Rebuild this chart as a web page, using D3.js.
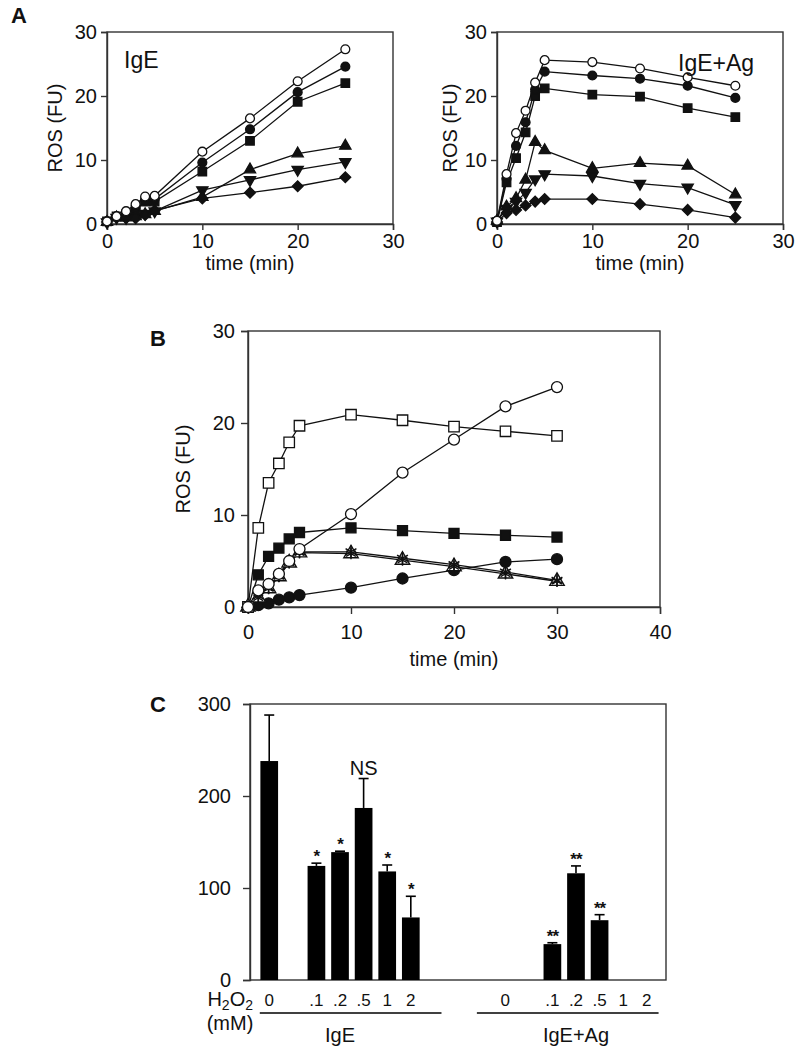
<!DOCTYPE html>
<html><head><meta charset="utf-8">
<script src="https://cdn.jsdelivr.net/npm/d3@7"></script>
<style>
body{margin:0;background:#fff}
svg{display:block}
text{font-family:"Liberation Sans",Arial,Helvetica,sans-serif;fill:#111}
</style>
</head><body>
<svg id="c" width="800" height="1055"></svg>
<script>
// ---------------- DATA ----------------
// Panel A (time in min, ROS in FU)
const timesA = [0, 1, 2, 3, 4, 5, 10, 15, 20, 25];
const xTicksA = [0, 10, 20, 30];
const yTicksA = [0, 10, 20, 30];
// IgE
const igeOpenCircle   = [0.4, 1.2, 2.0, 3.1, 4.3, 4.4, 11.3, 16.5, 22.3, 27.3];
const igeFilledCircle = [0.4, 1.2, 1.8, 2.5, 3.6, 3.9, 9.6, 14.8, 20.6, 24.6];
const igeFilledSquare = [0.4, 1.2, 1.5, 2.2, 3.5, 3.5, 8.2, 13.0, 19.1, 22.0];
const igeTriUp        = [0.3, 1.0, 1.0, 1.2, 1.5, 2.0, 4.2, 8.5, 11.0, 12.2];
const igeTriDown      = [0.3, 1.0, 1.0, 1.2, 1.6, 2.0, 5.3, 6.9, 8.5, 9.7];
const igeDiamond      = [0.3, 1.1, 0.9, 0.9, 1.4, 2.1, 4.0, 4.9, 5.9, 7.3];
// IgE+Ag
const agOpenCircle    = [0.5, 7.8, 14.2, 17.7, 22.1, 25.6, 25.3, 24.3, 22.9, 21.6];
const agFilledCircle  = [0.5, 7.1, 12.2, 15.9, 21.0, 23.8, 23.2, 22.7, 21.6, 19.7];
const agFilledSquare  = [0.3, 6.5, 10.3, 14.3, 20.0, 21.2, 20.2, 19.9, 18.1, 16.7];
const agTriUp         = [0.5, 2.7, 4.0, 6.9, 12.8, 11.5, 8.7, 9.5, 9.1, 4.6];
const agTriDown       = [0.4, 2.4, 3.5, 4.9, 7.0, 7.8, 7.5, 6.3, 5.7, 3.0];
const agDiamond       = [0.3, 1.7, 2.2, 2.9, 3.5, 3.9, 3.9, 3.1, 2.2, 1.0];

// Panel B
const timesB = [0, 1, 2, 3, 4, 5, 10, 15, 20, 25, 30];
const xTicksB = [0, 10, 20, 30, 40];
const yTicksB = [0, 10, 20, 30];
const bOpenSquare   = [0, 8.6, 13.5, 15.6, 17.9, 19.7, 20.9, 20.3, 19.6, 19.1, 18.6];
const bOpenCircle   = [0, 1.8, 2.5, 3.6, 5.0, 6.3, 10.1, 14.6, 18.2, 21.8, 23.9];
const bFilledSquare = [0, 3.5, 5.5, 6.4, 7.4, 8.1, 8.6, 8.3, 8.0, 7.8, 7.6];
const bFilledCircle = [0, 0.2, 0.4, 0.8, 1.05, 1.3, 2.1, 3.1, 4.0, 4.9, 5.2];
const bAsterisk     = [0, 1.2, 2.1, 3.4, 4.9, 6.0, 6.0, 5.3, 4.6, 3.8, 2.9];
const bOpenTriangle = [0, 1.0, 2.0, 3.3, 4.8, 5.9, 5.8, 5.1, 4.4, 3.6, 2.8];

// Panel C (IL-3 pg/ml)
const doseLabels = ["0", ".1", ".2", ".5", "1", "2"];
const groupLabels = ["IgE", "IgE+Ag"];
const il3IgE     = [238, 124, 139, 187, 118, 68];
const il3IgEErr  = [50, 3, 1, 32, 7, 23];
const il3IgESig  = ["", "*", "*", "NS", "*", "*"];
const il3Ag      = [0, 39, 116, 65, 0, 0];
const il3AgErr   = [0, 1.5, 8, 6, 0, 0];
const il3AgSig   = ["", "**", "**", "**", "", ""];
const yTicksC = [0, 100, 200, 300];

// ---------------- DRAWING ----------------
const svg = d3.select("#c");
const AX = "#333";

function shapePath(shape, size) {
  if (shape === "circle") return d3.symbol(d3.symbolCircle, size)();
  if (shape === "square" || shape === "diamond") return d3.symbol(d3.symbolSquare, size)();
  if (shape === "triUp" || shape === "triDown") return d3.symbol(d3.symbolTriangle, size)();
  if (shape === "asterisk") return d3.symbol(d3.symbolAsterisk, size)();
}
function shapeRot(shape) {
  if (shape === "triDown") return 180;
  if (shape === "diamond") return 45;
  return 0;
}

function linePanel(o) {
  const g = svg.append("g");
  const x = d3.scaleLinear().domain(o.xDomain).range(o.xRange);
  const y = d3.scaleLinear().domain(o.yDomain).range(o.yRange);
  // box
  g.append("rect").attr("x", o.xRange[0]).attr("y", o.yRange[1])
    .attr("width", o.xRange[1] - o.xRange[0]).attr("height", o.yRange[0] - o.yRange[1])
    .attr("fill", "none").attr("stroke", AX).attr("stroke-width", 1.4);
  const xa = g.append("g").attr("transform", `translate(0,${o.yRange[0]})`)
    .call(d3.axisBottom(x).tickValues(o.xTicks).tickSizeOuter(0).tickSize(o.tick).tickPadding(o.xPad));
  const ya = g.append("g").attr("transform", `translate(${o.xRange[0]},0)`)
    .call(d3.axisLeft(y).tickValues(o.yTicks).tickSizeOuter(0).tickSize(o.tick).tickPadding(o.yPad));
  [xa, ya].forEach(a => {
    a.select(".domain").attr("stroke", AX).attr("stroke-width", 1.4);
    a.selectAll(".tick line").attr("stroke", AX).attr("stroke-width", 1.4);
    a.selectAll(".tick text").attr("font-size", 20).attr("fill", "#111")
      .attr("font-family", '"Liberation Sans", Arial, sans-serif');
  });
  const line = d3.line().x((d, i) => x(o.times[i])).y(d => y(d));
  o.series.forEach(s => {
    g.append("path").attr("d", line(s.values)).attr("fill", "none")
      .attr("stroke", "#111").attr("stroke-width", 1.3);
  });
  o.series.forEach(s => {
    s.values.forEach((v, i) => {
      const extra = s.shape2 ? [s.shape2] : [];
      [s.shape].concat(extra).forEach(sh => {
        g.append("path").attr("d", shapePath(sh, s.size))
          .attr("transform", `translate(${x(o.times[i])},${y(v)}) rotate(${shapeRot(sh)})`)
          .attr("fill", sh === "asterisk" ? "none" : s.fill)
          .attr("stroke", "#111").attr("stroke-width", s.sw || 1.3);
      });
    });
  });
  // labels
  g.append("text").attr("x", (o.xRange[0] + o.xRange[1]) / 2).attr("y", o.xLabelY)
    .attr("text-anchor", "middle").attr("font-size", 20).text("time (min)");
  g.append("text").attr("transform", `translate(${o.yLabelX},${(o.yRange[0] + o.yRange[1]) / 2}) rotate(-90)`)
    .attr("text-anchor", "middle").attr("dy", "0.36em").attr("font-size", 20).text("ROS (FU)");
  return g;
}

const stA = {
  openCircle:   {shape: "circle", fill: "#fff", size: 62},
  filledCircle: {shape: "circle", fill: "#111", size: 62},
  filledSquare: {shape: "square", fill: "#111", size: 72},
  triUp:        {shape: "triUp",  fill: "#111", size: 55},
  triDown:      {shape: "triDown", fill: "#111", size: 55},
  diamond:      {shape: "diamond", fill: "#111", size: 58}
};
function seriesA(vals) {
  const keys = ["diamond", "triDown", "triUp", "filledSquare", "filledCircle", "openCircle"];
  return keys.map(k => Object.assign({values: vals[k]}, stA[k]));
}

// Panel A left
linePanel({
  xDomain: [0, 30], yDomain: [0, 30], xRange: [107, 393], yRange: [224, 32],
  xTicks: xTicksA, yTicks: yTicksA, tick: 6, xPad: 4, yPad: 4,
  times: timesA, xLabelY: 270, yLabelX: 55,
  series: seriesA({openCircle: igeOpenCircle, filledCircle: igeFilledCircle, filledSquare: igeFilledSquare,
    triUp: igeTriUp, triDown: igeTriDown, diamond: igeDiamond})
});
svg.append("text").attr("x", 124).attr("y", 68).attr("font-size", 23).text("IgE");

// Panel A right
linePanel({
  xDomain: [0, 30], yDomain: [0, 30], xRange: [497, 783], yRange: [224, 32],
  xTicks: xTicksA, yTicks: yTicksA, tick: 6, xPad: 4, yPad: 4,
  times: timesA, xLabelY: 270, yLabelX: 450,
  series: seriesA({openCircle: agOpenCircle, filledCircle: agFilledCircle, filledSquare: agFilledSquare,
    triUp: agTriUp, triDown: agTriDown, diamond: agDiamond})
});
svg.append("text").attr("x", 678).attr("y", 71).attr("font-size", 23).text("IgE+Ag");

// Panel B
linePanel({
  xDomain: [0, 40], yDomain: [0, 30], xRange: [248, 660], yRange: [607, 331],
  xTicks: xTicksB, yTicks: yTicksB, tick: 7, xPad: 11, yPad: 6,
  times: timesB, xLabelY: 666, yLabelX: 183,
  series: [
    {values: bFilledCircle, shape: "circle", fill: "#111", size: 95},
    {values: bFilledSquare, shape: "square", fill: "#111", size: 100},
    {values: bOpenTriangle, shape: "triUp", shape2: "asterisk", fill: "#fff", size: 90, sw: 1.4},
    {values: bAsterisk, shape: "asterisk", fill: "none", size: 110, sw: 1.6},
    {values: bOpenSquare, shape: "square", fill: "#fff", size: 110},
    {values: bOpenCircle, shape: "circle", fill: "#fff", size: 95}
  ]
});

// Panel letters
svg.append("text").attr("x", 19).attr("y", 23).attr("text-anchor", "middle").attr("font-size", 22).attr("font-weight", "bold").text("A");
svg.append("text").attr("x", 158).attr("y", 346).attr("text-anchor", "middle").attr("font-size", 22).attr("font-weight", "bold").text("B");
svg.append("text").attr("x", 158).attr("y", 712).attr("text-anchor", "middle").attr("font-size", 22).attr("font-weight", "bold").text("C");

// Panel C
(function () {
  const g = svg.append("g");
  const slots = [];
  groupLabels.forEach((gl, gi) => {
    doseLabels.forEach((d, di) => {
      slots.push(gl + "|" + d);
      if (di === 0) slots.push(gl + "|gapA");
    });
    if (gi === 0) { slots.push("gap1", "gap2", "gap3"); }
  });
  const xC = d3.scaleBand().domain(slots).range([250, 666]).paddingInner(0.25).paddingOuter(0.44);
  const yC = d3.scaleLinear().domain([0, 300]).range([980, 704]);
  const step = xC.step(), bw = xC.bandwidth();
  const pos = k => xC.range()[0] + xC.paddingOuter() * step + k * step + bw / 2;

  g.append("rect").attr("x", 250).attr("y", 704).attr("width", 416).attr("height", 276)
    .attr("fill", "none").attr("stroke", AX).attr("stroke-width", 1.4);
  const ya = g.append("g").attr("transform", "translate(250,0)")
    .call(d3.axisLeft(yC).tickValues(yTicksC).tickSizeOuter(0).tickSize(7).tickPadding(12));
  ya.select(".domain").attr("stroke", AX).attr("stroke-width", 1.4);
  ya.selectAll(".tick line").attr("stroke", AX).attr("stroke-width", 1.4);
  ya.selectAll(".tick text").attr("font-size", 20).attr("fill", "#111");

  const groups = [
    {label: groupLabels[0], vals: il3IgE, errs: il3IgEErr, sig: il3IgESig},
    {label: groupLabels[1], vals: il3Ag, errs: il3AgErr, sig: il3AgSig}
  ];
  groups.forEach(gr => {
    gr.vals.forEach((v, i) => {
      const key = gr.label + "|" + doseLabels[i];
      const cx = xC(key) + bw / 2;
      if (v > 0) {
        g.append("rect").attr("x", xC(key)).attr("y", yC(v)).attr("width", bw)
          .attr("height", yC(0) - yC(v)).attr("fill", "#000");
      }
      const top = v + gr.errs[i];
      if (gr.errs[i] > 0) {
        g.append("line").attr("x1", cx).attr("x2", cx).attr("y1", yC(v)).attr("y2", yC(top))
          .attr("stroke", "#000").attr("stroke-width", 1.6);
        g.append("line").attr("x1", cx - 5).attr("x2", cx + 5).attr("y1", yC(top)).attr("y2", yC(top))
          .attr("stroke", "#000").attr("stroke-width", 1.6);
      }
      const s = gr.sig[i];
      if (s === "NS") {
        g.append("text").attr("x", cx).attr("y", yC(top) - 4).attr("text-anchor", "middle")
          .attr("font-size", 20).text(s);
      } else if (s) {
        g.append("text").attr("x", cx).attr("y", yC(top) - 1).attr("text-anchor", "middle")
          .attr("font-size", 17).attr("font-weight", "bold").attr("letter-spacing", -1).text(s);
      }
      g.append("text").attr("x", cx).attr("y", 1006).attr("text-anchor", "middle")
        .attr("font-size", 17).text(doseLabels[i]);
    });
  });
  // H2O2 label
  const h = g.append("text").attr("x", 253).attr("y", 1006).attr("text-anchor", "end").attr("font-size", 20);
  h.append("tspan").text("H");
  h.append("tspan").attr("font-size", 14).attr("dy", 4).text("2");
  h.append("tspan").attr("dy", -4).text("O");
  h.append("tspan").attr("font-size", 14).attr("dy", 4).text("2");
  g.append("text").attr("x", 230).attr("y", 1030).attr("text-anchor", "middle").attr("font-size", 20).text("(mM)");
  // group underlines
  [[-0.4, 7.3, 3.0], [8.8, 16.5, 13.0]].forEach((r, gi) => {
    g.append("line").attr("x1", pos(r[0])).attr("x2", pos(r[1])).attr("y1", 1013).attr("y2", 1013)
      .attr("stroke", "#000").attr("stroke-width", 1.6);
    g.append("text").attr("x", pos(r[2])).attr("y", 1042).attr("text-anchor", "middle")
      .attr("font-size", 20).text(groupLabels[gi]);
  });
})();
</script>
</body></html>
